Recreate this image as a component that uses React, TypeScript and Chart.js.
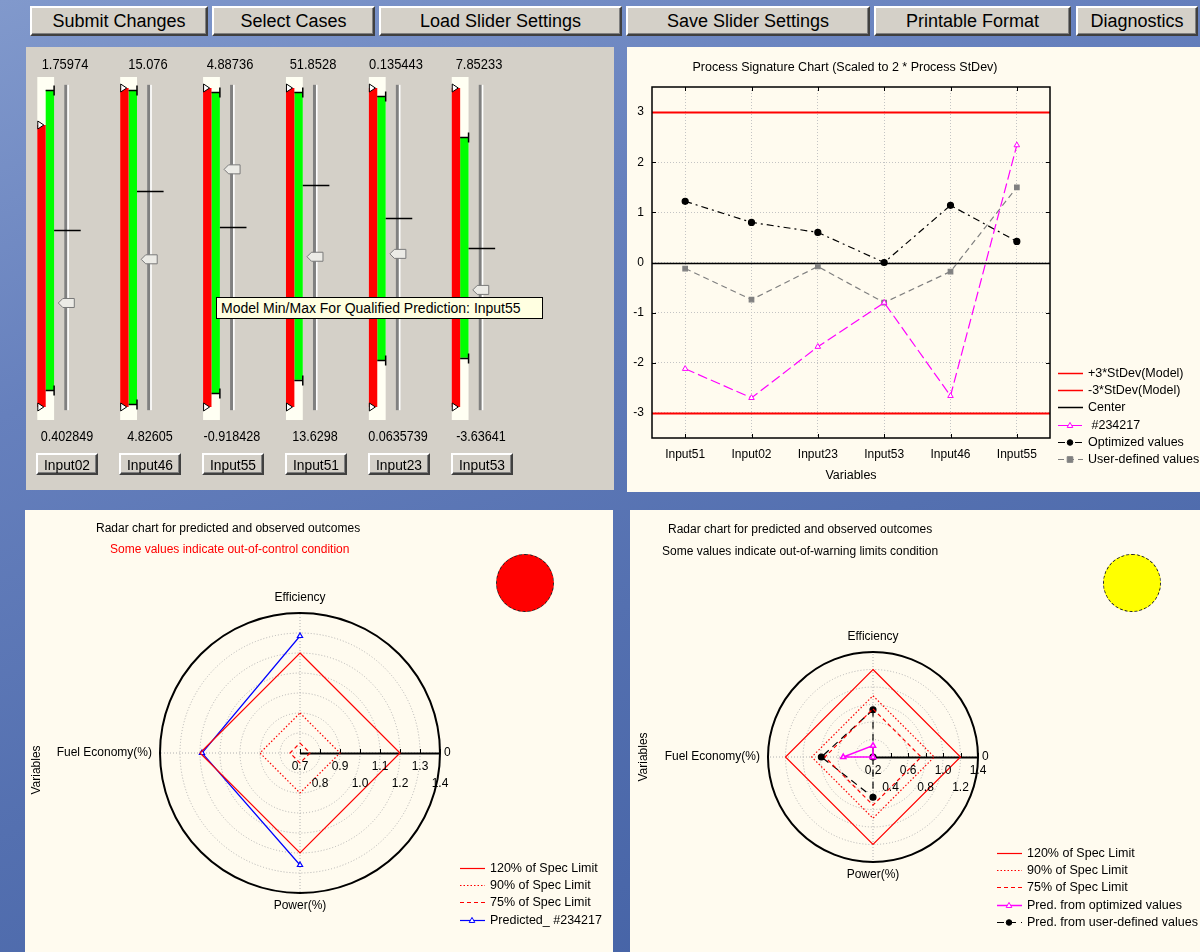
import React, { useEffect, useRef } from 'react';
import { Chart, registerables } from 'chart.js';

Chart.register(...registerables);

const FONT = '"Liberation Sans", Arial, Helvetica, sans-serif';

/* ------------------------------ data ------------------------------ */
const TOP_BUTTONS = ['Submit Changes', 'Select Cases', 'Load Slider Settings', 'Save Slider Settings', 'Printable Format', 'Diagnostics'];

// slider panel (values normalised to each slider's min..max range)
const SLIDER_NAMES = ['Input02', 'Input46', 'Input55', 'Input51', 'Input23', 'Input53'];
const SLIDER_MAX_LABELS = ['1.75974', '15.076', '4.88736', '51.8528', '0.135443', '7.85233'];
const SLIDER_MIN_LABELS = ['0.402849', '4.82605', '-0.918428', '13.6298', '0.0635739', '-3.63641'];
const MODEL_RANGE = [[0, 0.884], [0, 1], [0, 1], [0, 1], [0, 1], [0, 1]];
const QUALIFIED_RANGE = [[0.053, 0.994], [0.009, 0.994], [0.044, 0.987], [0.085, 0.987], [0.147, 0.975], [0.154, 0.846]];
const CURRENT_SETTING = [0.555, 0.678, 0.563, 0.696, 0.593, 0.497];
const SLIDER_THUMB = [0.326, 0.463, 0.745, 0.471, 0.48, 0.367];
const TOOLTIP_TEXT = 'Model Min/Max For Qualified Prediction: Input55';

// process signature chart
const PROCESS_TITLE = 'Process Signature Chart (Scaled to 2 * Process StDev)';
const VARIABLES = ['Input51', 'Input02', 'Input23', 'Input53', 'Input46', 'Input55'];
const CASE_234217 = [-2.12, -2.7, -1.68, -0.8, -2.66, 2.34];
const OPTIMIZED = [1.22, 0.8, 0.6, 0.0, 1.14, 0.42];
const USER_DEFINED = [-0.12, -0.74, -0.08, -0.8, -0.18, 1.5];
const Y_TICKS = [-3, -2, -1, 0, 1, 2, 3];
const LIMIT_VALUES = [3, -3, 0];
const LIMIT_LABELS = ['+3*StDev(Model)', '-3*StDev(Model)', 'Center'];

// radar charts
const RADAR_TITLE = 'Radar chart for predicted and observed outcomes';
const LEFT_STATUS = 'Some values indicate out-of-control condition';
const RIGHT_STATUS = 'Some values indicate out-of-warning limits condition';
const RADAR_AXES = ['Efficiency', '0', 'Power(%)', 'Fuel Economy(%)'];
const SPEC_120 = [1.2, 1.2, 1.2, 1.2];
const SPEC_90 = [0.9, 0.9, 0.9, 0.9];
const SPEC_75 = [0.75, 0.75, 0.75, 0.75];
const PREDICTED_234217 = [1.285, null, 1.26, 1.19];
const PRED_OPTIMIZED = [0.33, 0.2, 0.2, 0.54];
const PRED_USER = [0.74, 0.2, 0.66, 0.79];
const LEFT_RADAR_TICKS = [0.7, 0.8, 0.9, 1.0, 1.1, 1.2, 1.3, 1.4];
const RIGHT_RADAR_TICKS = [0.2, 0.4, 0.6, 0.8, 1.0, 1.2, 1.4];
const SPEC_LABELS = ['120% of Spec Limit', '90% of Spec Limit', '75% of Spec Limit'];

/* ------------------------------ layout / style ------------------------------ */
const TOP_BUTTON_BOXES = [[30, 178], [212, 163], [379, 243], [626, 244], [874, 197], [1076, 122]];
const SLIDER_PAIR_X0 = 45.7;
const SLIDER_STEP = 82.88;
const LIMIT_STYLES = [
  { color: '#ff0000', width: 2 },
  { color: '#ff0000', width: 2 },
  { color: '#000000', width: 1.5 },
];

/* ------------------------------ helpers ------------------------------ */
function drawMarker(ctx: CanvasRenderingContext2D, style: string, x: number, y: number, r: number, fill: string, stroke: string) {
  ctx.save();
  ctx.setLineDash([]);
  ctx.lineWidth = 1;
  ctx.fillStyle = fill;
  ctx.strokeStyle = stroke;
  ctx.beginPath();
  if (style === 'circle') {
    ctx.arc(x, y, r, 0, Math.PI * 2);
  } else if (style === 'rect') {
    ctx.rect(x - r, y - r, r * 2, r * 2);
  } else if (style === 'triangle') {
    ctx.moveTo(x, y - r * 1.1);
    ctx.lineTo(x + r, y + r * 0.7);
    ctx.lineTo(x - r, y + r * 0.7);
    ctx.closePath();
  }
  ctx.fill();
  ctx.stroke();
  ctx.restore();
}

function drawLegend(ctx: CanvasRenderingContext2D, items: any[], x: number, y: number, step: number, fontSize: number) {
  ctx.save();
  ctx.font = `${fontSize}px ${FONT}`;
  ctx.textBaseline = 'middle';
  ctx.textAlign = 'left';
  items.forEach((it, i) => {
    const yy = Math.round(y + i * step) + 0.5;
    ctx.strokeStyle = it.color;
    ctx.lineWidth = it.width || 1;
    ctx.setLineDash(it.dash || []);
    ctx.beginPath();
    ctx.moveTo(x, yy);
    ctx.lineTo(x + 25, yy);
    ctx.stroke();
    ctx.setLineDash([]);
    if (it.point) drawMarker(ctx, it.point, x + 12, yy, 2.8, it.pointFill, it.color);
    ctx.fillStyle = '#000';
    ctx.fillText(it.label, x + 30, yy);
  });
  ctx.restore();
}

function datasetLegendItems(chart: any) {
  return chart.data.datasets.map((ds: any) => ({
    label: ds.label,
    color: ds.borderColor,
    dash: ds.borderDash,
    width: ds.borderWidth,
    point: ds.pointRadius > 0 ? ds.pointStyle : null,
    pointFill: ds.pointBackgroundColor,
  }));
}

/* ------------------------------ slider chart ------------------------------ */
const sliderPlugin = {
  id: 'sliderDecor',
  beforeDatasetsDraw(chart: any) {
    const { ctx, chartArea: a } = chart;
    const red = chart.getDatasetMeta(0);
    const green = chart.getDatasetMeta(1);
    ctx.save();
    SLIDER_NAMES.forEach((_, i) => {
      const r = red.data[i];
      const g = green.data[i];
      const l = r.x - r.width / 2;
      const rt = g.x + g.width / 2;
      ctx.fillStyle = '#fffff3';
      ctx.fillRect(l, a.top, rt - l, a.bottom - a.top);
    });
    ctx.restore();
  },
  afterDatasetsDraw(chart: any) {
    const { ctx, scales: { y } } = chart;
    const red = chart.getDatasetMeta(0);
    const green = chart.getDatasetMeta(1);
    ctx.save();
    SLIDER_NAMES.forEach((_, i) => {
      const r = red.data[i];
      const g = green.data[i];
      const rl = r.x - r.width / 2;
      const gl = g.x - g.width / 2;
      const gr = g.x + g.width / 2;
      const pc = (rl + gr) / 2;
      MODEL_RANGE[i].forEach((v) => {
        const py = y.getPixelForValue(v);
        ctx.beginPath();
        ctx.moveTo(rl + 0.5, py - 4);
        ctx.lineTo(rl + 6.5, py);
        ctx.lineTo(rl + 0.5, py + 4);
        ctx.closePath();
        ctx.fillStyle = '#ffffff';
        ctx.fill();
        ctx.strokeStyle = '#000';
        ctx.lineWidth = 1;
        ctx.stroke();
      });
      QUALIFIED_RANGE[i].forEach((v) => {
        const py = Math.round(y.getPixelForValue(v)) + 0.5;
        ctx.strokeStyle = '#000';
        ctx.lineWidth = 1.5;
        ctx.beginPath();
        ctx.moveTo(gl, py);
        ctx.lineTo(gr, py);
        ctx.moveTo(gr, py - 5);
        ctx.lineTo(gr, py + 5);
        ctx.stroke();
      });
      const tx = pc + 18.6;
      const ty0 = y.getPixelForValue(1.01);
      const ty1 = y.getPixelForValue(-0.01);
      ctx.fillStyle = '#808080';
      ctx.fillRect(tx, ty0, 3, ty1 - ty0);
      ctx.fillStyle = '#ffffff';
      ctx.fillRect(tx + 3, ty0, 1.6, ty1 - ty0);
      const cy = Math.round(y.getPixelForValue(CURRENT_SETTING[i])) + 0.5;
      ctx.strokeStyle = '#000';
      ctx.lineWidth = 1.5;
      ctx.beginPath();
      ctx.moveTo(gr, cy);
      ctx.lineTo(pc + 35, cy);
      ctx.stroke();
      const th = y.getPixelForValue(SLIDER_THUMB[i]);
      const cx = tx + 2;
      ctx.beginPath();
      ctx.moveTo(cx - 8, th);
      ctx.lineTo(cx - 3.5, th - 4.5);
      ctx.lineTo(cx + 8, th - 4.5);
      ctx.lineTo(cx + 8, th + 4.5);
      ctx.lineTo(cx - 3.5, th + 4.5);
      ctx.closePath();
      ctx.fillStyle = '#ecebe6';
      ctx.fill();
      ctx.strokeStyle = '#7a7a7a';
      ctx.lineWidth = 1;
      ctx.stroke();
    });
    ctx.restore();
  },
};

function sliderConfig(): any {
  return {
    type: 'bar',
    data: {
      labels: SLIDER_NAMES,
      datasets: [
        { label: 'Model range', data: MODEL_RANGE.map((p) => [...p]), backgroundColor: '#ff0000', borderWidth: 0 },
        { label: 'Qualified range', data: QUALIFIED_RANGE.map((p) => [...p]), backgroundColor: '#00ff00', borderWidth: 0 },
      ],
    },
    options: {
      animation: false,
      responsive: false,
      events: [],
      layout: { padding: { left: 4.26, right: 118.4, top: 30, bottom: 70 } },
      categoryPercentage: 0.2027,
      barPercentage: 1,
      plugins: { legend: { display: false }, tooltip: { enabled: false } },
      scales: {
        x: { display: false },
        y: { display: false, min: -0.0408, max: 1.0345 },
      },
    },
    plugins: [sliderPlugin],
  };
}

/* ------------------------------ process chart ------------------------------ */
const processPlugin = {
  id: 'processDecor',
  beforeDatasetsDraw(chart: any) {
    const { ctx, chartArea: a, scales: { x, y } } = chart;
    ctx.save();
    ctx.strokeStyle = '#000';
    ctx.lineWidth = 1;
    ctx.beginPath();
    VARIABLES.forEach((_, i) => {
      const px = Math.round(x.getPixelForTick(i)) + 0.5;
      ctx.moveTo(px, a.top);
      ctx.lineTo(px, a.top + 4);
      ctx.moveTo(px, a.bottom);
      ctx.lineTo(px, a.bottom - 4);
    });
    Y_TICKS.forEach((v) => {
      const py = Math.round(y.getPixelForValue(v)) + 0.5;
      ctx.moveTo(a.left, py);
      ctx.lineTo(a.left + 4, py);
      ctx.moveTo(a.right, py);
      ctx.lineTo(a.right - 4, py);
    });
    ctx.stroke();
    LIMIT_VALUES.forEach((v, i) => {
      const py = Math.round(y.getPixelForValue(v)) + 0.5;
      ctx.strokeStyle = LIMIT_STYLES[i].color;
      ctx.lineWidth = LIMIT_STYLES[i].width;
      ctx.beginPath();
      ctx.moveTo(a.left, py);
      ctx.lineTo(a.right, py);
      ctx.stroke();
    });
    ctx.strokeStyle = '#000';
    ctx.lineWidth = 1.5;
    ctx.strokeRect(a.left, a.top, a.right - a.left, a.bottom - a.top);
    ctx.restore();
  },
  afterDraw(chart: any) {
    const { ctx, chartArea: a } = chart;
    ctx.save();
    ctx.fillStyle = '#000';
    ctx.font = `12.5px ${FONT}`;
    ctx.textAlign = 'center';
    ctx.textBaseline = 'middle';
    ctx.fillText(PROCESS_TITLE, 218, 21);
    ctx.fillText('Variables', (a.left + a.right) / 2, 429);
    ctx.restore();
    const items = [
      ...LIMIT_LABELS.map((label, i) => ({ label, color: LIMIT_STYLES[i].color, width: 1.5 })),
      ...datasetLegendItems(chart),
    ];
    drawLegend(ctx, items, 431, 326, 17.2, 12.5);
  },
};

function processConfig(): any {
  const gridCommon = { color: '#c4c4c4', drawTicks: false, lineWidth: 1 };
  return {
    type: 'line',
    data: {
      labels: VARIABLES,
      datasets: [
        {
          label: ' #234217', data: [...CASE_234217], borderColor: '#ff00ff', borderWidth: 1.2, borderDash: [10, 4],
          pointStyle: 'triangle', pointRadius: 3.2, pointBackgroundColor: '#ffffff', pointBorderColor: '#ff00ff', pointBorderWidth: 1,
        },
        {
          label: 'Optimized values', data: [...OPTIMIZED], borderColor: '#000000', borderWidth: 1.2, borderDash: [7, 4, 2, 4],
          pointStyle: 'circle', pointRadius: 3, pointBackgroundColor: '#000000', pointBorderColor: '#000000',
        },
        {
          label: 'User-defined values', data: [...USER_DEFINED], borderColor: '#808080', borderWidth: 1.2, borderDash: [6, 4],
          pointStyle: 'rect', pointRadius: 3.2, pointBackgroundColor: '#808080', pointBorderColor: '#808080',
        },
      ],
    },
    options: {
      animation: false,
      responsive: false,
      events: [],
      layout: { padding: { left: 0, right: 150, top: 40, bottom: 0 } },
      plugins: { legend: { display: false }, tooltip: { enabled: false } },
      elements: { line: { tension: 0 } },
      scales: {
        x: {
          offset: true,
          grid: gridCommon,
          border: { display: false, dash: [1, 2] },
          ticks: { color: '#000', font: { family: FONT, size: 12 }, padding: 9, maxRotation: 0 },
          afterFit: (s: any) => { s.height = 54; },
        },
        y: {
          min: -3.5,
          max: 3.5,
          afterBuildTicks: (s: any) => { s.ticks = Y_TICKS.map((v) => ({ value: v })); },
          grid: gridCommon,
          border: { display: false, dash: [1, 2] },
          ticks: { color: '#000', font: { family: FONT, size: 12 }, padding: 8 },
          afterFit: (s: any) => { s.width = 25; },
        },
      },
    },
    plugins: [processPlugin],
  };
}

/* ------------------------------ radar charts ------------------------------ */
function makeRadarPlugin(legendX: number, legendY: number, variablesPos: [number, number]) {
  return {
    id: 'radarDecor',
    beforeDatasetsDraw(chart: any) {
      const { ctx } = chart;
      const r = chart.scales.r;
      const cx = r.xCenter;
      const cy = r.yCenter;
      const R = r.drawingArea;
      ctx.save();
      ctx.setLineDash([]);
      ctx.strokeStyle = '#000';
      ctx.lineWidth = 2;
      ctx.beginPath();
      ctx.arc(cx, cy, R, 0, Math.PI * 2);
      ctx.stroke();
      ctx.beginPath();
      ctx.moveTo(cx, cy + 0.5);
      ctx.lineTo(cx + R, cy + 0.5);
      ctx.stroke();
      ctx.lineWidth = 1;
      ctx.beginPath();
      r.ticks.forEach((t: any) => {
        const d = Math.round(r.getDistanceFromCenterForValue(t.value)) + 0.5;
        ctx.moveTo(cx + d, cy);
        ctx.lineTo(cx + d, cy - 4);
      });
      ctx.stroke();
      ctx.beginPath();
      ctx.restore();
    },
    afterDraw(chart: any) {
      const { ctx } = chart;
      const r = chart.scales.r;
      const cx = r.xCenter;
      const cy = r.yCenter;
      const R = r.drawingArea;
      ctx.save();
      ctx.fillStyle = '#000';
      ctx.font = `12px ${FONT}`;
      ctx.textBaseline = 'middle';
      ctx.textAlign = 'center';
      r.ticks.forEach((t: any, i: number) => {
        const d = r.getDistanceFromCenterForValue(t.value);
        ctx.fillText(t.value.toFixed(1), cx + d, cy + (i % 2 === 0 ? 14 : 31));
      });
      const labels = chart.data.labels;
      ctx.textAlign = 'center';
      ctx.fillText(labels[0], cx, cy - R - 15);
      ctx.textAlign = 'left';
      ctx.fillText(labels[1], cx + R + 4, cy);
      ctx.textAlign = 'center';
      ctx.fillText(labels[2], cx, cy + R + 13);
      ctx.textAlign = 'right';
      ctx.fillText(labels[3], cx - R - 8, cy);
      ctx.save();
      ctx.translate(variablesPos[0], variablesPos[1]);
      ctx.rotate(-Math.PI / 2);
      ctx.textAlign = 'center';
      ctx.fillText('Variables', 0, 0);
      ctx.restore();
      ctx.restore();
      drawLegend(ctx, datasetLegendItems(chart), legendX, legendY, 17.2, 12.5);
    },
  };
}

function specDatasets() {
  return [
    { label: SPEC_LABELS[0], data: [...SPEC_120], borderColor: '#ff0000', borderWidth: 1.2, pointRadius: 0, fill: false },
    { label: SPEC_LABELS[1], data: [...SPEC_90], borderColor: '#ff0000', borderWidth: 1.2, borderDash: [1.5, 2], pointRadius: 0, fill: false },
    { label: SPEC_LABELS[2], data: [...SPEC_75], borderColor: '#ff0000', borderWidth: 1.2, borderDash: [4, 3], pointRadius: 0, fill: false },
  ];
}

function radarConfig(min: number, max: number, ticks: number[], datasets: any[], padding: any, plugin: any): any {
  return {
    type: 'radar',
    data: { labels: RADAR_AXES, datasets },
    options: {
      animation: false,
      responsive: false,
      events: [],
      layout: { padding },
      plugins: { legend: { display: false }, tooltip: { enabled: false } },
      elements: { line: { tension: 0 } },
      scales: {
        r: {
          min,
          max,
          afterBuildTicks: (s: any) => { s.ticks = ticks.map((v) => ({ value: v })); },
          ticks: { display: false },
          pointLabels: { display: false },
          grid: { circular: true, color: '#b0b0b0', lineWidth: 1 },
          border: { dash: [1, 2] },
          angleLines: { color: '#b0b0b0', lineWidth: 1, borderDash: [1, 2] },
        },
      },
    },
    plugins: [plugin],
  };
}

function leftRadarConfig() {
  return radarConfig(
    0.7, 1.4, LEFT_RADAR_TICKS,
    [
      ...specDatasets(),
      {
        label: 'Predicted_ #234217', data: [...PREDICTED_234217], borderColor: '#0000ff', borderWidth: 1.2,
        pointStyle: 'triangle', pointRadius: 3, pointBackgroundColor: '#ffffff', pointBorderColor: '#0000ff', fill: false,
      },
    ],
    { left: 135, top: 103, right: 172, bottom: 58 },
    makeRadarPlugin(435, 358, [12, 260]),
  );
}

function rightRadarConfig() {
  return radarConfig(
    0.2, 1.4, RIGHT_RADAR_TICKS,
    [
      ...specDatasets(),
      {
        label: 'Pred. from optimized values', data: [...PRED_OPTIMIZED], borderColor: '#ff00ff', borderWidth: 1.5,
        pointStyle: 'triangle', pointRadius: 3, pointBackgroundColor: '#ffffff', pointBorderColor: '#ff00ff', fill: false,
      },
      {
        label: 'Pred. from user-defined values', data: [...PRED_USER], borderColor: '#000000', borderWidth: 1.2, borderDash: [7, 5],
        pointStyle: 'circle', pointRadius: 3, pointBackgroundColor: '#000000', pointBorderColor: '#000000', fill: false,
      },
    ],
    { left: 138, top: 142, right: 222, bottom: 90 },
    makeRadarPlugin(367, 343, [14, 247]),
  );
}

/* ------------------------------ components ------------------------------ */
function ChartCanvas({ make, left, top, width, height }: { make: () => any; left: number; top: number; width: number; height: number }) {
  const ref = useRef<HTMLCanvasElement>(null);
  useEffect(() => {
    const chart = new Chart(ref.current as HTMLCanvasElement, make());
    return () => chart.destroy();
  }, []);
  return (
    <canvas
      ref={ref}
      width={width}
      height={height}
      style={{ position: 'absolute', left, top, width, height, display: 'block' }}
    />
  );
}

const buttonStyle = (fontSize: number): React.CSSProperties => ({
  position: 'absolute',
  boxSizing: 'border-box',
  background: '#d4d0c8',
  borderTop: '2px solid #ffffff',
  borderLeft: '2px solid #ffffff',
  borderRight: '2px solid #404040',
  borderBottom: '2px solid #404040',
  boxShadow: 'inset -1px -1px 0 #808080',
  fontFamily: FONT,
  fontSize,
  color: '#000',
  display: 'flex',
  alignItems: 'center',
  justifyContent: 'center',
  whiteSpace: 'nowrap',
});

const textStyle = (left: number, top: number, size: number, color = '#000'): React.CSSProperties => ({
  position: 'absolute',
  left,
  top,
  fontFamily: FONT,
  fontSize: size,
  color,
  whiteSpace: 'nowrap',
  lineHeight: 1,
});

export default function App() {
  return (
    <div
      style={{
        position: 'absolute',
        left: 0,
        top: 0,
        width: 1200,
        height: 952,
        overflow: 'hidden',
        background: 'linear-gradient(160deg, #8199cc 0%, #6680bd 30%, #5470b0 60%, #405ea2 100%)',
      }}
    >
      {TOP_BUTTONS.map((b, i) => (
        <div key={b} style={{ ...buttonStyle(18), left: TOP_BUTTON_BOXES[i][0], top: 6, width: TOP_BUTTON_BOXES[i][1], height: 30 }}>
          {b}
        </div>
      ))}

      <div style={{ position: 'absolute', left: 26, top: 47, width: 588, height: 443, background: '#d4d0c8' }} />
      <div style={{ position: 'absolute', left: 627, top: 47, width: 573, height: 445, background: '#fffbef' }} />
      <div style={{ position: 'absolute', left: 25, top: 510, width: 588, height: 442, background: '#fffbef' }} />
      <div style={{ position: 'absolute', left: 630, top: 510, width: 570, height: 442, background: '#fffbef' }} />

      <ChartCanvas make={sliderConfig} left={0} top={47} width={620} height={443} />
      {SLIDER_NAMES.map((name, i) => {
        const pc = SLIDER_PAIR_X0 + SLIDER_STEP * i;
        return (
          <React.Fragment key={name}>
            <div style={{ ...textStyle(pc + 19 - 40, 56, 15), width: 80, textAlign: 'center', transform: 'scaleX(0.86)' }}>{SLIDER_MAX_LABELS[i]}</div>
            <div style={{ ...textStyle(pc + 21 - 45, 428, 15), width: 90, textAlign: 'center', transform: 'scaleX(0.84)' }}>{SLIDER_MIN_LABELS[i]}</div>
            <div style={{ ...buttonStyle(15), left: pc - 9.5, top: 453, width: 62, height: 22 }}>
              <span style={{ display: 'inline-block', transform: 'scaleX(0.92)' }}>{name}</span>
            </div>
          </React.Fragment>
        );
      })}
      <div
        style={{
          ...textStyle(216, 297, 14),
          width: 327,
          height: 22,
          boxSizing: 'border-box',
          background: '#ffffe1',
          border: '1px solid #000',
          padding: '3px 4px',
        }}
      >
        {TOOLTIP_TEXT}
      </div>

      <ChartCanvas make={processConfig} left={627} top={47} width={573} height={445} />

      <ChartCanvas make={leftRadarConfig} left={25} top={510} width={588} height={442} />
      <div style={textStyle(96, 522, 12)}>{RADAR_TITLE}</div>
      <div style={textStyle(110, 543, 12, '#ff0000')}>{LEFT_STATUS}</div>
      <div
        style={{
          position: 'absolute', left: 496, top: 554, width: 58, height: 58, borderRadius: '50%',
          background: '#ff0000', border: '1px dashed #202020', boxSizing: 'border-box',
        }}
      />

      <ChartCanvas make={rightRadarConfig} left={630} top={510} width={570} height={442} />
      <div style={textStyle(668, 523, 12)}>{RADAR_TITLE}</div>
      <div style={textStyle(662, 545, 12)}>{RIGHT_STATUS}</div>
      <div
        style={{
          position: 'absolute', left: 1103, top: 554, width: 58, height: 58, borderRadius: '50%',
          background: '#ffff00', border: '1px dashed #202020', boxSizing: 'border-box',
        }}
      />
    </div>
  );
}
